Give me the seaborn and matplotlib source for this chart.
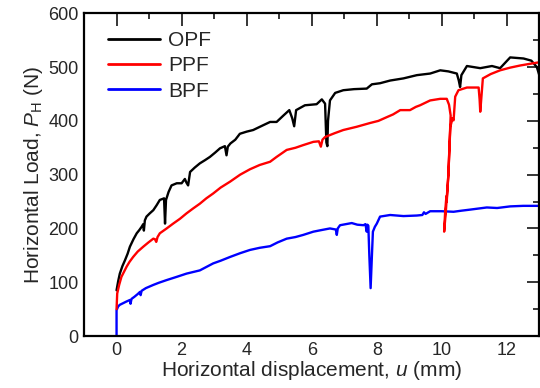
import matplotlib
matplotlib.use("Agg")
import matplotlib.pyplot as plt
import seaborn as sns
import pandas as pd
from matplotlib.ticker import MultipleLocator

opf_x = [0, 0.05, 0.1, 0.18, 0.26, 0.34, 0.41, 0.52, 0.62, 0.7, 0.77, 0.82, 0.84, 0.87, 0.92, 1.02, 1.13, 1.23,
         1.33, 1.42, 1.46, 1.49, 1.52, 1.6, 1.69, 1.85, 2.0, 2.1, 2.15, 2.2, 2.26, 2.4, 2.56, 2.72, 2.87, 3.03,
         3.18, 3.33, 3.38, 3.42, 3.5, 3.65, 3.79, 4.0, 4.2, 4.51, 4.72, 4.92, 5.13, 5.31, 5.4, 5.46, 5.52, 5.79,
         6.15, 6.31, 6.41, 6.45, 6.48, 6.5, 6.56, 6.72, 6.97, 7.3, 7.69, 7.85, 8.1, 8.41, 8.82, 9.23, 9.64, 9.95,
         10.2, 10.46, 10.52, 10.56, 10.6, 10.77, 11.18, 11.54, 11.79, 12.1, 12.51, 12.75, 12.92, 13.0]
opf_y = [85, 102, 116, 130, 141, 153, 166, 180, 191, 197, 203, 208, 196, 215, 222, 228, 234, 243,
         253, 255, 256, 209, 253, 268, 280, 284, 284, 292, 285, 280, 305, 313, 321, 327, 333, 341,
         349, 353, 336, 352, 358, 365, 376, 380, 383, 392, 398, 398, 410, 420, 405, 390, 420, 429,
         431, 440, 432, 360, 353, 400, 438, 452, 457, 459, 460, 468, 470, 475, 479, 485, 488, 494,
         492, 488, 475, 463, 485, 502, 498, 502, 498, 518, 516, 512, 500, 484]

ppf_x = [0, 0.02, 0.08, 0.15, 0.31, 0.4, 0.51, 0.65, 0.82, 0.98, 1.13, 1.18, 1.22, 1.26, 1.33, 1.54, 1.74,
         1.95, 2.15, 2.35, 2.56, 2.76, 2.97, 3.2, 3.49, 3.8, 4.1, 4.4, 4.72, 4.92, 5.23, 5.5, 5.74, 6.05,
         6.22, 6.28, 6.33, 6.41, 6.7, 6.97, 7.38, 7.79, 8.05, 8.31, 8.5, 8.72, 9.02, 9.2, 9.33, 9.64, 9.95,
         10.15, 10.22, 10.27, 10.2, 10.12, 10.07, 10.1, 10.14, 10.15, 10.2, 10.26, 10.33, 10.36, 10.41,
         10.51, 10.77, 11.13, 11.16, 11.18, 11.21, 11.26, 11.5, 11.79, 12.1, 12.41, 12.7, 13.0]
ppf_y = [50, 79, 95, 110, 129, 138, 147, 157, 166, 174, 181, 180, 175, 184, 191, 200, 209,
         218, 228, 237, 246, 256, 265, 276, 287, 300, 310, 318, 324, 333, 346, 350, 355, 361,
         362, 352, 365, 370, 377, 383, 389, 396, 400, 407, 412, 420, 420, 426, 429, 438, 441,
         441, 430, 410, 300, 230, 194, 230, 260, 250, 300, 389, 405, 401, 445,
         457, 462, 462, 440, 417, 440, 479, 487, 494, 499, 503, 506, 509]

bpf_x = [0, 0, 0.05, 0.1, 0.2, 0.3, 0.41, 0.43, 0.46, 0.55, 0.65, 0.72, 0.74, 0.77, 0.9, 1.13, 1.3, 1.54,
         1.85, 2.15, 2.56, 2.97, 3.2, 3.49, 3.8, 4.1, 4.4, 4.72, 4.95, 5.23, 5.5, 5.74, 6.05, 6.3, 6.56,
         6.74, 6.77, 6.8, 6.87, 7.05, 7.23, 7.4, 7.59, 7.65, 7.69, 7.71, 7.74, 7.77, 7.81, 7.85, 7.88, 7.94,
         8.0, 8.1, 8.41, 8.82, 9.23, 9.4, 9.45, 9.5, 9.64, 10.0, 10.36, 10.6, 10.87, 11.38, 11.7, 12.1, 12.5, 13.0]
bpf_y = [0, 48, 55, 58, 61, 64, 67, 60, 69, 73, 78, 82, 76, 84, 89, 95, 99, 104,
         110, 116, 122, 135, 140, 147, 154, 160, 164, 167, 174, 181, 184, 188, 194, 197, 200,
         198, 188, 200, 206, 208, 210, 207, 206, 208, 194, 207, 205, 150, 89, 150, 194, 203,
         209, 222, 225, 223, 224, 225, 230, 227, 232, 232, 231, 233, 235, 239, 238, 241, 242, 242]

series_names = ["OPF", "PPF", "BPF"]
colors = {"OPF": "black", "PPF": "#ff0000", "BPF": "#0000ff"}

df = pd.concat([
    pd.DataFrame({"u": opf_x, "P": opf_y, "s": "OPF"}),
    pd.DataFrame({"u": ppf_x, "P": ppf_y, "s": "PPF"}),
    pd.DataFrame({"u": bpf_x, "P": bpf_y, "s": "BPF"}),
])

sns.set_style("white")
plt.rcParams["font.family"] = ["Liberation Sans", "DejaVu Sans"]
plt.rcParams["mathtext.fontset"] = "custom"
plt.rcParams["mathtext.rm"] = "Liberation Sans"
plt.rcParams["mathtext.it"] = "Liberation Sans:italic"

fig = plt.figure(figsize=(5.4, 3.88), dpi=100)
ax = fig.add_axes([0.1556, 0.134, 0.8434, 0.8317])

for name in ["BPF", "OPF", "PPF"]:
    sub = df[df["s"] == name]
    sns.lineplot(data=sub, x="u", y="P", ax=ax, color=colors[name], lw=1.7,
                 sort=False, estimator=None, label=name)
h, l = ax.get_legend_handles_labels()
hd = dict(zip(l, h))
leg = ax.legend([hd[n] for n in series_names], series_names, loc="upper left",
                frameon=False, fontsize=15, handlelength=2.5, handletextpad=0.4,
                labelspacing=0.3, borderaxespad=0.3, bbox_to_anchor=(0.02, 0.99))
for line in leg.get_lines():
    line.set_linewidth(2)

ax.set_xlim(-1, 13)
ax.set_ylim(0, 600)
ax.xaxis.set_major_locator(MultipleLocator(2))
ax.xaxis.set_minor_locator(MultipleLocator(1))
ax.yaxis.set_major_locator(MultipleLocator(100))
ax.yaxis.set_minor_locator(MultipleLocator(50))
ax.tick_params(which="both", direction="in", top=True, right=True, labelsize=13, width=1.3, pad=4)
ax.tick_params(which="major", length=9)
ax.tick_params(which="minor", length=4.5)
for sp in ax.spines.values():
    sp.set_linewidth(1.6)
    sp.set_color("black")

ax.set_xlabel("Horizontal displacement, $u$ (mm)", fontsize=15, labelpad=0)
ax.set_ylabel("Horizontal Load, $P_\\mathrm{H}$ (N)", fontsize=15, labelpad=2)

fig.savefig("out.png", dpi=100)
